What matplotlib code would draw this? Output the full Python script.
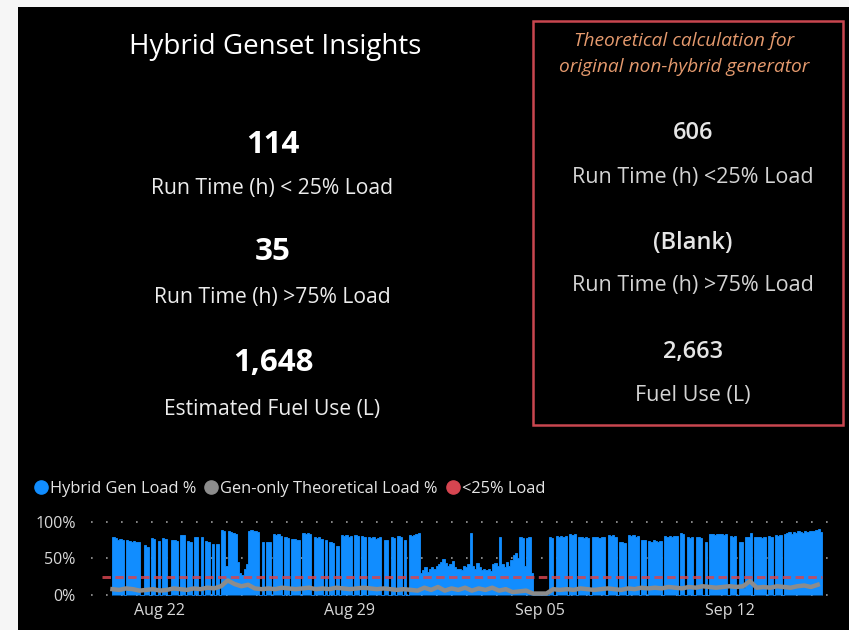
import numpy as np
import pandas as pd
import matplotlib
matplotlib.use("Agg")
import matplotlib.pyplot as plt
import matplotlib.dates as mdates
from matplotlib.lines import Line2D
from matplotlib.patches import Rectangle

# ---- KPI values ----
title = "Hybrid Genset Insights"
hybrid_kpis = ["114", "35", "1,648"]
hybrid_labels = ["Run Time (h) < 25% Load", "Run Time (h) >75% Load", "Estimated Fuel Use (L)"]
theory_note = ["Theoretical calculation for", "original non-hybrid generator"]
theory_kpis = ["606", "(Blank)", "2,663"]
theory_labels = ["Run Time (h) <25% Load", "Run Time (h) >75% Load", "Fuel Use (L)"]

# ---- time series ----
hybrid_start = "2023-08-20 06:00"   # 2-hourly samples
hybrid_load = [
    80, 78, 76, 77, 76, 0, 75, 74, 72,
    74, 73, 72, 0, 0, 68, 66, 0, 78, 77, 0, 74,
    0, 78, 77, 0, 0, 75, 76, 74, 0, 82, 82, 0,
    74, 73, 0, 80, 79, 0, 80, 0, 74, 73, 0, 70,
    0, 70, 0, 89, 87, 40, 88, 86, 85, 84, 45, 30,
    28, 35, 42, 88, 89, 88, 87, 86, 0, 72, 0, 72,
    72, 0, 83, 82, 83, 81, 0, 79, 78, 0, 77, 77,
    76, 75, 0, 85, 84, 85, 83, 0, 79, 78, 79, 77,
    0, 76, 0, 72, 71, 0, 67, 0, 82, 81, 82, 80,
    81, 0, 82, 81, 0, 81, 80, 0, 79, 78, 79, 77,
    78, 79, 0, 76, 75, 0, 79, 78, 0, 81, 80, 0,
    76, 0, 82, 81, 82, 83, 85, 30, 34, 38, 32, 36,
    38, 35, 40, 42, 45, 49, 44, 40, 42, 47, 38, 36,
    36, 34, 40, 38, 42, 85, 40, 36, 44, 38, 34, 36,
    34, 36, 33, 42, 44, 40, 80, 42, 38, 45, 40, 48,
    55, 58, 50, 79, 78, 40, 78, 79, 30, 0, 0, 0,
    0, 0, 0, 0, 79, 78, 0, 81, 80, 81, 80, 81,
    0, 83, 82, 83, 0, 79, 80, 78, 79, 78, 0, 79,
    79, 80, 78, 79, 80, 0, 82, 81, 82, 80, 0, 72,
    72, 71, 0, 82, 81, 82, 80, 81, 0, 76, 75, 0,
    74, 73, 75, 74, 73, 74, 0, 81, 80, 81, 80, 81,
    81, 0, 85, 84, 0, 79, 78, 79, 0, 79, 80, 78,
    0, 72, 0, 83, 84, 82, 83, 84, 83, 82, 83, 0,
    81, 80, 81, 0, 72, 72, 10, 79, 79, 85, 0, 79,
    79, 80, 78, 79, 0, 81, 80, 0, 82, 81, 82, 0,
    84, 85, 86, 84, 86, 85, 87, 86, 85, 87, 86, 88,
    87, 88, 89, 90, 86,
]

gen_start = "2023-08-20 06:00"   # 6-hourly samples
gen_only_load = [
    8, 7, 9, 8, 6, 7, 8, 6, 7, 9, 8, 7, 9, 8, 10, 9,
    12, 20, 15, 12, 14, 9, 8, 9, 8, 10, 9, 8, 9, 10, 8, 9,
    8, 10, 9, 8, 9, 10, 9, 8, 9, 8, 7, 8, 7, 6, 10, 7,
    11, 6, 9, 7, 10, 6, 9, 7, 10, 6, 8, 4, 5, 6, 2, 2,
    2, 8, 7, 8, 7, 9, 8, 7, 8, 9, 8, 7, 9, 8, 10, 9,
    10, 9, 11, 10, 9, 11, 10, 12, 11, 10, 11, 12, 11, 12, 19, 10,
    11, 10, 12, 11, 10, 12, 13, 11, 14,
]

threshold = 25
tick_dates = ["2023-08-22", "2023-08-29", "2023-09-05", "2023-09-12"]

BLUE = "#118DFF"
GREY = "#8C8C8C"
RED = "#D64550"
W, H = 849, 630

def fx(x):
    return x / W

def fy(y):
    return 1 - y / H

fig = plt.figure(figsize=(W / 100, H / 100), dpi=100, facecolor="black")
# light page margin on the left and top
fig.add_artist(Rectangle((0, 0), fx(18), 1, transform=fig.transFigure,
                         facecolor="#f6f6f6", edgecolor="none", zorder=0))
fig.add_artist(Rectangle((0, fy(7)), 1, 1 - fy(7), transform=fig.transFigure,
                         facecolor="#f6f6f6", edgecolor="none", zorder=0))

FONT = "Open Sans"

# left KPI panel
fig.text(fx(275), fy(47), title, color="white", fontsize=20, family=FONT,
         ha="center", va="center")
for val, lab, yv, yl in zip(hybrid_kpis, hybrid_labels, [145, 252, 363], [188, 297, 409]):
    fig.text(fx(273), fy(yv), val, color="white", fontsize=22.5, family=FONT,
             fontweight="bold", ha="center", va="center")
    fig.text(fx(272), fy(yl), lab, color="#ececec", fontsize=15.2, family=FONT,
             ha="center", va="center")

# right comparison box
fig.add_artist(Rectangle((fx(533), fy(425)), fx(843) - fx(533), fy(21) - fy(425),
                         transform=fig.transFigure, facecolor="none",
                         edgecolor="#C8464F", lw=1.8))
for line, yy in zip(theory_note, [41, 67]):
    fig.text(fx(684), fy(yy), line, color="#E59A6E", fontsize=13.8, family=FONT,
             style="italic", ha="center", va="center")
for val, lab, yv, yl in zip(theory_kpis, theory_labels, [133, 243, 352], [177, 286, 396]):
    fig.text(fx(693), fy(yv), val, color="#e6e6e6", fontsize=17, family=FONT,
             fontweight="semibold", ha="center", va="center")
    fig.text(fx(693), fy(yl), lab, color="#d4d4d4", fontsize=15.5, family=FONT,
             ha="center", va="center")

# load chart
ymin, ymax = -4, 104
px_per_unit = 73 / 100
ax_bottom = 595 + (0 - ymin) * px_per_unit
ax_h = (ymax - ymin) * px_per_unit
ax = fig.add_axes([fx(91), 1 - ax_bottom / H, fx(831) - fx(91), ax_h / H])
ax.set_facecolor("black")
for s in ax.spines.values():
    s.set_visible(False)

h_times = pd.date_range(hybrid_start, periods=len(hybrid_load) + 1, freq="2h")
g_times = pd.date_range(gen_start, periods=len(gen_only_load), freq="6h")

for y in (0, 50, 100):
    ax.axhline(y, color="#9a9a9a", lw=1.2, ls=(0, (1, 8)), zorder=1)

ax.stairs(hybrid_load, mdates.date2num(h_times), fill=True, facecolor=BLUE,
          edgecolor=BLUE, lw=0.6, zorder=2)
ax.plot(mdates.date2num(g_times), gen_only_load, color=GREY, lw=3.2, zorder=3,
        solid_joinstyle="round")
ax.hlines(threshold, mdates.date2num(h_times[0] - pd.Timedelta(hours=9)),
          mdates.date2num(h_times[-1]), color=RED, lw=2.1, ls=(0, (2.9, 1.5)),
          alpha=0.85, zorder=4)

x0 = mdates.date2num(pd.Timestamp("2023-08-19 11:00"))
x1 = mdates.date2num(pd.Timestamp("2023-09-15 17:45"))
ax.set_xlim(x0, x1)
ax.set_ylim(ymin, ymax)
ax.set_yticks([0, 50, 100])
ax.set_yticklabels(["0%", "50%", "100%"])
ax.set_xticks(mdates.date2num(pd.to_datetime(tick_dates)))
ax.set_xticklabels([pd.Timestamp(d).strftime("%b %d") for d in tick_dates])
ax.tick_params(length=0, colors="#d8d8d8", labelsize=11.5)
ax.tick_params(axis="y", pad=11)
ax.tick_params(axis="x", pad=4)
for t in ax.get_xticklabels() + ax.get_yticklabels():
    t.set_family(FONT)

handles = [Line2D([], [], marker="o", ls="none", color=c, markersize=9.5)
           for c in (BLUE, GREY, RED)]
fig.legend(handles, ["Hybrid Gen Load %", "Gen-only Theoretical Load %", "<25% Load"],
           loc="center left", bbox_to_anchor=(fx(28), fy(489)), ncol=3, frameon=False,
           handlelength=0.6, handletextpad=0.25, columnspacing=0.6, borderpad=0,
           prop={"family": FONT, "size": 11.8}, labelcolor="#e6e6e6")

fig.savefig("out.png", dpi=100, facecolor=fig.get_facecolor())
